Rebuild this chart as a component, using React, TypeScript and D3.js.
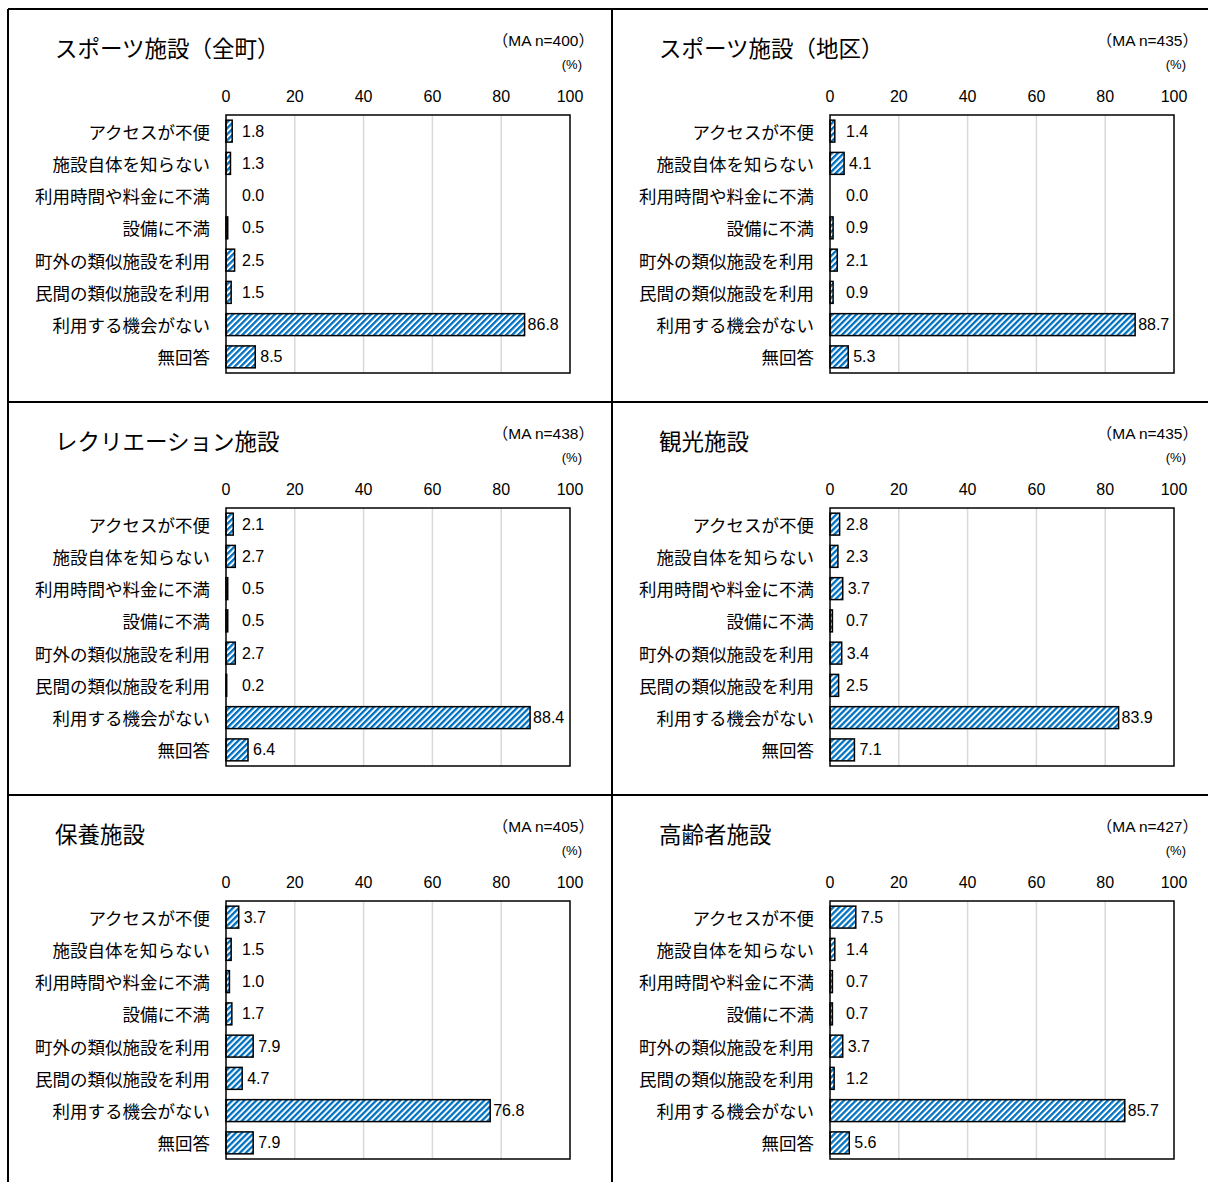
import React from "react";
import * as d3 from "d3";

const categories = [
  "アクセスが不便",
  "施設自体を知らない",
  "利用時間や料金に不満",
  "設備に不満",
  "町外の類似施設を利用",
  "民間の類似施設を利用",
  "利用する機会がない",
  "無回答",
];

const titles = [
  "スポーツ施設（全町）",
  "スポーツ施設（地区）",
  "レクリエーション施設",
  "観光施設",
  "保養施設",
  "高齢者施設",
];

const sampleSizes = [400, 435, 438, 435, 405, 427];

const values1 = [1.8, 1.3, 0.0, 0.5, 2.5, 1.5, 86.8, 8.5];
const values2 = [1.4, 4.1, 0.0, 0.9, 2.1, 0.9, 88.7, 5.3];
const values3 = [2.1, 2.7, 0.5, 0.5, 2.7, 0.2, 88.4, 6.4];
const values4 = [2.8, 2.3, 3.7, 0.7, 3.4, 2.5, 83.9, 7.1];
const values5 = [3.7, 1.5, 1.0, 1.7, 7.9, 4.7, 76.8, 7.9];
const values6 = [7.5, 1.4, 0.7, 0.7, 3.7, 1.2, 85.7, 5.6];

const allValues = [values1, values2, values3, values4, values5, values6];
const ticks = [0, 20, 40, 60, 80, 100];

const PW = 604;
const PH = 393;
const OX = 8;
const OY = 9;

const latin = "'Liberation Sans', Arial, 'Noto Sans CJK JP', sans-serif";
const jp = "'Noto Sans CJK JP', sans-serif";

function Panel({ idx }: { idx: number }) {
  const col = idx % 2;
  const row = Math.floor(idx / 2);
  const ox = OX + col * PW;
  const oy = OY + row * PH;
  const vals = allValues[idx];
  const x = d3.scaleLinear().domain([0, 100]).range([ox + 218, ox + 562]);
  const y = d3
    .scaleBand<string>()
    .domain(categories)
    .range([oy + 106, oy + 364])
    .paddingInner(0.32)
    .paddingOuter(0.16);
  const x0 = x(0);
  return (
    <g>
      <text
        x={ox + 47}
        y={oy + 38}
        dominantBaseline="central"
        fontFamily={jp}
        fontSize={22.5}
        fill="#000"
      >
        {titles[idx]}
      </text>
      <text
        x={ox + 586}
        y={oy + 31}
        textAnchor="end"
        dominantBaseline="central"
        fontFamily={latin}
        fontSize={15.5}
        fill="#000"
      >
        {`（MA n=${sampleSizes[idx]}）`}
      </text>
      <text
        x={ox + 574}
        y={oy + 55}
        textAnchor="end"
        dominantBaseline="central"
        fontFamily={latin}
        fontSize={13}
        fill="#000"
      >
        (%)
      </text>
      {ticks.map((t) => (
        <text
          key={"t" + t}
          x={x(t)}
          y={oy + 87}
          textAnchor="middle"
          dominantBaseline="central"
          fontFamily={latin}
          fontSize={16}
          fill="#000"
        >
          {t}
        </text>
      ))}
      {ticks.slice(1, -1).map((t) => (
        <line
          key={"g" + t}
          x1={x(t)}
          x2={x(t)}
          y1={oy + 106}
          y2={oy + 364}
          stroke="#d9d9d9"
          strokeWidth={1.5}
        />
      ))}
      {categories.map((c, i) => {
        const v = vals[i];
        const yb = y(c) as number;
        const bw = y.bandwidth();
        const xe = x(v);
        const lx = v > 50 ? xe + 3 : Math.max(xe + 5, x0 + 16);
        return (
          <g key={c}>
            <text
              x={ox + 202}
              y={yb + bw / 2}
              textAnchor="end"
              dominantBaseline="central"
              fontFamily={jp}
              fontSize={17.5}
              fill="#000"
            >
              {c}
            </text>
            {v > 0 && (
              <rect
                x={x0}
                y={yb}
                width={xe - x0}
                height={bw}
                fill="url(#hatch)"
                stroke="#000"
                strokeWidth={1.5}
              />
            )}
            <text
              x={lx}
              y={yb + bw / 2}
              dominantBaseline="central"
              fontFamily={latin}
              fontSize={16}
              fill="#000"
            >
              {v.toFixed(1)}
            </text>
          </g>
        );
      })}
      <rect
        x={x0}
        y={oy + 106}
        width={x(100) - x0}
        height={258}
        fill="none"
        stroke="#000"
        strokeWidth={1.5}
      />
    </g>
  );
}

export default function App() {
  const vLines = [OX, OX + PW, OX + 2 * PW];
  const hLines = [OY, OY + PH, OY + 2 * PH, OY + 3 * PH];
  return (
    <svg
      width={1208}
      height={1182}
      style={{ position: "absolute", left: 0, top: 0, background: "#fff" }}
    >
      <defs>
        <pattern
          id="hatch"
          patternUnits="userSpaceOnUse"
          width={4.24}
          height={4.24}
          patternTransform="rotate(45)"
        >
          <rect x={0} y={0} width={4.24} height={4.24} fill="#fff" />
          <rect x={0} y={0} width={2.3} height={4.24} fill="#0070C0" />
        </pattern>
      </defs>
      <rect x={0} y={0} width={1208} height={1182} fill="#fff" />
      {vLines.map((vx) => (
        <line key={"v" + vx} x1={vx} x2={vx} y1={OY} y2={1200} stroke="#000" strokeWidth={2} />
      ))}
      {hLines.map((hy) => (
        <line key={"h" + hy} x1={OX} x2={1220} y1={hy} y2={hy} stroke="#000" strokeWidth={2} />
      ))}
      {titles.map((_, i) => (
        <Panel key={i} idx={i} />
      ))}
    </svg>
  );
}
